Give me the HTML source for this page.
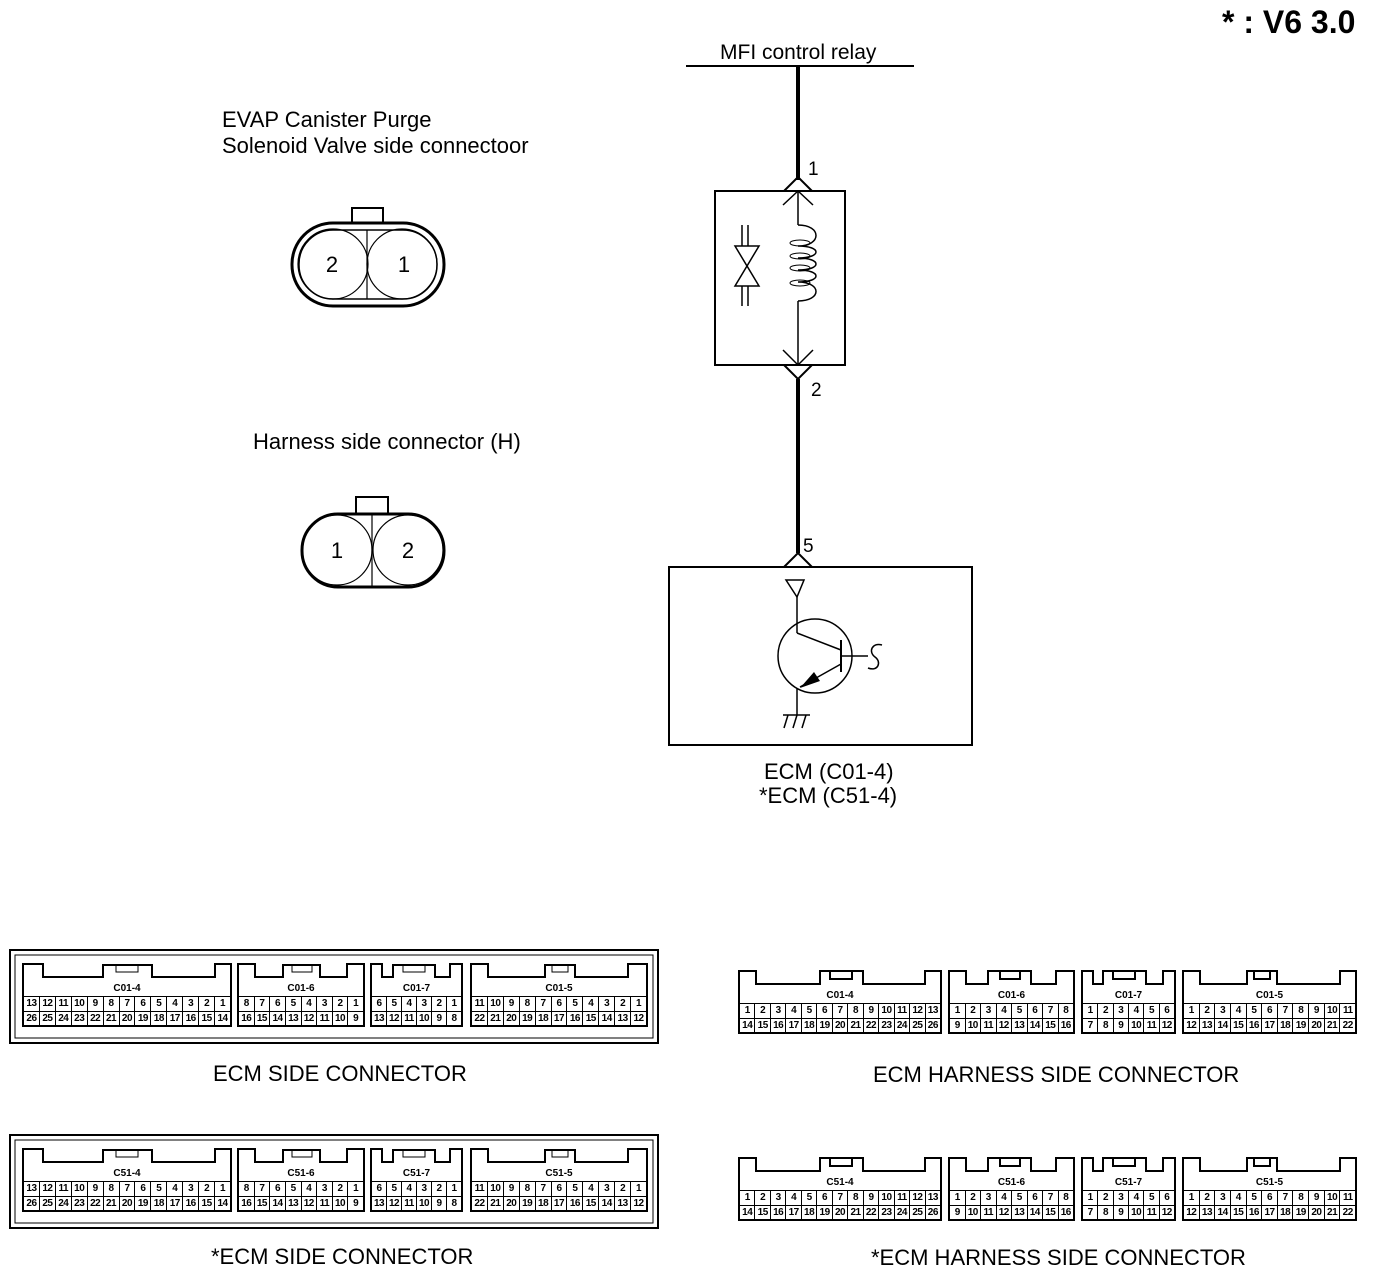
<!DOCTYPE html>
<html><head><meta charset="utf-8"><style>
body{margin:0;background:#fff;width:1376px;height:1270px;position:relative;overflow:hidden;font-family:"Liberation Sans",Arial,sans-serif}
.t{position:absolute;font-size:22px;color:#000;white-space:nowrap;line-height:1}
.c{position:absolute;height:64px}
.c svg{position:absolute;left:0;top:0}
.c .rows{position:absolute;left:0;right:0;top:33px;height:28px;border:2px solid #000;border-top:1.5px solid #000}
.rw{display:flex;height:14px}
.rw+.rw{border-top:1px solid #000}
.rw span{flex:1;border-left:1px solid #000;font-size:10px;text-align:center;line-height:14px;font-weight:bold;letter-spacing:-0.5px}
.rw span:first-child{border-left:none}
.lb{position:absolute;top:20px;left:0;right:0;text-align:center;font-size:10px;font-weight:bold}
</style></head><body>

<svg width="1376" height="1270" style="position:absolute;left:0;top:0">
<line x1="686" y1="66" x2="914" y2="66" stroke="#000" stroke-width="2"/>
<line x1="798" y1="66" x2="798" y2="180" stroke="#000" stroke-width="4"/>
<polyline points="784,191 798,177 812,191" fill="none" stroke="#000" stroke-width="2"/>
<rect x="715" y="191" width="130" height="174" fill="none" stroke="#000" stroke-width="2"/>
<polyline points="783,205 798,191 813,205" fill="none" stroke="#000" stroke-width="1.5"/>
<line x1="798" y1="191" x2="798" y2="225" stroke="#000" stroke-width="1.5"/>
<path d="M798,225 C822,225 822,246 798,246 C822,246 822,258 798,258 C822,258 822,270 798,270 C822,270 822,282 798,282 C822,282 822,301 798,301" fill="none" stroke="#000" stroke-width="1.5"/>
<ellipse cx="800" cy="243" rx="10" ry="3" fill="none" stroke="#000"/>
<ellipse cx="800" cy="256" rx="10" ry="3" fill="none" stroke="#000"/>
<ellipse cx="800" cy="268" rx="10" ry="3" fill="none" stroke="#000"/>
<ellipse cx="800" cy="283" rx="10" ry="3" fill="none" stroke="#000"/>
<line x1="798" y1="301" x2="798" y2="365" stroke="#000" stroke-width="1.5"/>
<polyline points="783,350 798,365 813,350" fill="none" stroke="#000" stroke-width="1.5"/>
<polyline points="784,365 798,379 812,365" fill="none" stroke="#000" stroke-width="2"/>
<line x1="798" y1="379" x2="798" y2="553" stroke="#000" stroke-width="4"/>
<line x1="742" y1="225" x2="742" y2="246" stroke="#000" stroke-width="1.5"/>
<line x1="748" y1="225" x2="748" y2="246" stroke="#000" stroke-width="1.5"/>
<polygon points="735,246 759,246 747,266" fill="none" stroke="#000" stroke-width="1.5"/>
<polygon points="735,286 759,286 747,266" fill="none" stroke="#000" stroke-width="1.5"/>
<line x1="742" y1="286" x2="742" y2="306" stroke="#000" stroke-width="1.5"/>
<line x1="748" y1="286" x2="748" y2="306" stroke="#000" stroke-width="1.5"/>
<polyline points="784,567 798,553 812,567" fill="none" stroke="#000" stroke-width="2"/>
<rect x="669" y="567" width="303" height="178" fill="none" stroke="#000" stroke-width="2"/>
<polygon points="786,580 804,580 797,597" fill="none" stroke="#000" stroke-width="1.5"/>
<line x1="797" y1="597" x2="797" y2="633" stroke="#000" stroke-width="1.5"/>
<circle cx="815" cy="656" r="37" fill="none" stroke="#000" stroke-width="1.5"/>
<line x1="797" y1="633" x2="841" y2="650" stroke="#000" stroke-width="1.5"/>
<line x1="841" y1="640" x2="841" y2="672" stroke="#000" stroke-width="2"/>
<line x1="841" y1="656" x2="868" y2="656" stroke="#000" stroke-width="1.5"/>
<path d="M882,645 C872,642 868,652 875,657 C882,662 878,672 868,668" fill="none" stroke="#000" stroke-width="1.5"/>
<line x1="841" y1="664" x2="800" y2="687" stroke="#000" stroke-width="1.5"/>
<polygon points="800,688 814,672 820,681" fill="#000"/>
<line x1="797" y1="688" x2="797" y2="715" stroke="#000" stroke-width="1.5"/>
<line x1="783" y1="715" x2="810" y2="715" stroke="#000" stroke-width="1.5"/>
<line x1="788" y1="715" x2="784" y2="728" stroke="#000" stroke-width="1.5"/>
<line x1="797" y1="715" x2="793" y2="728" stroke="#000" stroke-width="1.5"/>
<line x1="806" y1="715" x2="802" y2="728" stroke="#000" stroke-width="1.5"/>
<rect x="352" y="208" width="31" height="15" fill="none" stroke="#000" stroke-width="2"/>
<rect x="292" y="223" width="152" height="83" rx="41" fill="#fff" stroke="#000" stroke-width="3"/>
<rect x="299" y="230" width="138" height="69" rx="34" fill="none" stroke="#000" stroke-width="1.5"/>
<circle cx="333" cy="264" r="35" fill="none" stroke="#000" stroke-width="1.2"/>
<circle cx="402" cy="264" r="35" fill="none" stroke="#000" stroke-width="1.2"/>
<line x1="367" y1="230" x2="367" y2="299" stroke="#000" stroke-width="1.2"/>
<text x="332" y="272" font-size="22" text-anchor="middle" font-family="Liberation Sans">2</text>
<text x="404" y="272" font-size="22" text-anchor="middle" font-family="Liberation Sans">1</text>
<rect x="356" y="497" width="32" height="17" fill="none" stroke="#000" stroke-width="2"/>
<rect x="302" y="514" width="142" height="73" rx="36" fill="#fff" stroke="#000" stroke-width="3"/>
<circle cx="337" cy="550" r="35" fill="none" stroke="#000" stroke-width="1.2"/>
<circle cx="408" cy="550" r="35" fill="none" stroke="#000" stroke-width="1.2"/>
<line x1="372" y1="514" x2="372" y2="587" stroke="#000" stroke-width="1.2"/>
<text x="337" y="558" font-size="22" text-anchor="middle" font-family="Liberation Sans">1</text>
<text x="408" y="558" font-size="22" text-anchor="middle" font-family="Liberation Sans">2</text>
<rect x="10" y="950" width="648" height="93" fill="none" stroke="#000" stroke-width="2"/>
<rect x="15" y="955" width="638" height="83" fill="none" stroke="#000" stroke-width="1"/>
<rect x="10" y="1135" width="648" height="93" fill="none" stroke="#000" stroke-width="2"/>
<rect x="15" y="1140" width="638" height="83" fill="none" stroke="#000" stroke-width="1"/>
</svg>

<div class="t" style="left:1222px;top:6px;font-size:32px;font-weight:bold">* : V6 3.0</div>
<div class="t" style="left:720px;top:42px;font-size:21px">MFI control relay</div>
<div class="t" style="left:808px;top:160px;font-size:19px">1</div>
<div class="t" style="left:811px;top:381px;font-size:19px">2</div>
<div class="t" style="left:803px;top:537px;font-size:19px">5</div>
<div class="t" style="left:222px;top:109px">EVAP Canister Purge</div>
<div class="t" style="left:222px;top:135px">Solenoid Valve side connectoor</div>
<div class="t" style="left:253px;top:431px">Harness side connector (H)</div>
<div class="t" style="left:764px;top:761px">ECM (C01-4)</div>
<div class="t" style="left:759px;top:785px">*ECM (C51-4)</div>
<div class="t" style="left:213px;top:1063px">ECM SIDE CONNECTOR</div>
<div class="t" style="left:873px;top:1064px">ECM HARNESS SIDE CONNECTOR</div>
<div class="t" style="left:211px;top:1246px">*ECM SIDE CONNECTOR</div>
<div class="t" style="left:871px;top:1247px">*ECM HARNESS SIDE CONNECTOR</div>

<div class="c" style="left:22px;top:963px;width:210px"><svg width="210" height="35"><path d="M1,35V1H21V14H81V2H130V14H193V1H209V35" fill="none" stroke="#000" stroke-width="2"/><rect x="94" y="2" width="22" height="7" fill="none" stroke="#000"/></svg><div class="lb">C01-4</div><div class="rows"><div class="rw"><span>13</span><span>12</span><span>11</span><span>10</span><span>9</span><span>8</span><span>7</span><span>6</span><span>5</span><span>4</span><span>3</span><span>2</span><span>1</span></div><div class="rw"><span>26</span><span>25</span><span>24</span><span>23</span><span>22</span><span>21</span><span>20</span><span>19</span><span>18</span><span>17</span><span>16</span><span>15</span><span>14</span></div></div></div>
<div class="c" style="left:237px;top:963px;width:128px"><svg width="128" height="35"><path d="M1,35V1H18V14H46V2H83V14H110V1H127V35" fill="none" stroke="#000" stroke-width="2"/><rect x="55" y="2" width="20" height="7" fill="none" stroke="#000"/></svg><div class="lb">C01-6</div><div class="rows"><div class="rw"><span>8</span><span>7</span><span>6</span><span>5</span><span>4</span><span>3</span><span>2</span><span>1</span></div><div class="rw"><span>16</span><span>15</span><span>14</span><span>13</span><span>12</span><span>11</span><span>10</span><span>9</span></div></div></div>
<div class="c" style="left:370px;top:963px;width:93px"><svg width="93" height="35"><path d="M1,35V1H12V14H23V2H65V14H80V1H92V35" fill="none" stroke="#000" stroke-width="2"/><rect x="33" y="2" width="22" height="7" fill="none" stroke="#000"/></svg><div class="lb">C01-7</div><div class="rows"><div class="rw"><span>6</span><span>5</span><span>4</span><span>3</span><span>2</span><span>1</span></div><div class="rw"><span>13</span><span>12</span><span>11</span><span>10</span><span>9</span><span>8</span></div></div></div>
<div class="c" style="left:470px;top:963px;width:178px"><svg width="178" height="35"><path d="M1,35V1H18V14H75V2H105V14H158V1H177V35" fill="none" stroke="#000" stroke-width="2"/><rect x="82" y="2" width="16" height="7" fill="none" stroke="#000"/></svg><div class="lb">C01-5</div><div class="rows"><div class="rw"><span>11</span><span>10</span><span>9</span><span>8</span><span>7</span><span>6</span><span>5</span><span>4</span><span>3</span><span>2</span><span>1</span></div><div class="rw"><span>22</span><span>21</span><span>20</span><span>19</span><span>18</span><span>17</span><span>16</span><span>15</span><span>14</span><span>13</span><span>12</span></div></div></div>

<div class="c" style="left:22px;top:1148px;width:210px"><svg width="210" height="35"><path d="M1,35V1H21V14H81V2H130V14H193V1H209V35" fill="none" stroke="#000" stroke-width="2"/><rect x="94" y="2" width="22" height="7" fill="none" stroke="#000"/></svg><div class="lb">C51-4</div><div class="rows"><div class="rw"><span>13</span><span>12</span><span>11</span><span>10</span><span>9</span><span>8</span><span>7</span><span>6</span><span>5</span><span>4</span><span>3</span><span>2</span><span>1</span></div><div class="rw"><span>26</span><span>25</span><span>24</span><span>23</span><span>22</span><span>21</span><span>20</span><span>19</span><span>18</span><span>17</span><span>16</span><span>15</span><span>14</span></div></div></div>
<div class="c" style="left:237px;top:1148px;width:128px"><svg width="128" height="35"><path d="M1,35V1H18V14H46V2H83V14H110V1H127V35" fill="none" stroke="#000" stroke-width="2"/><rect x="55" y="2" width="20" height="7" fill="none" stroke="#000"/></svg><div class="lb">C51-6</div><div class="rows"><div class="rw"><span>8</span><span>7</span><span>6</span><span>5</span><span>4</span><span>3</span><span>2</span><span>1</span></div><div class="rw"><span>16</span><span>15</span><span>14</span><span>13</span><span>12</span><span>11</span><span>10</span><span>9</span></div></div></div>
<div class="c" style="left:370px;top:1148px;width:93px"><svg width="93" height="35"><path d="M1,35V1H12V14H23V2H65V14H80V1H92V35" fill="none" stroke="#000" stroke-width="2"/><rect x="33" y="2" width="22" height="7" fill="none" stroke="#000"/></svg><div class="lb">C51-7</div><div class="rows"><div class="rw"><span>6</span><span>5</span><span>4</span><span>3</span><span>2</span><span>1</span></div><div class="rw"><span>13</span><span>12</span><span>11</span><span>10</span><span>9</span><span>8</span></div></div></div>
<div class="c" style="left:470px;top:1148px;width:178px"><svg width="178" height="35"><path d="M1,35V1H18V14H75V2H105V14H158V1H177V35" fill="none" stroke="#000" stroke-width="2"/><rect x="82" y="2" width="16" height="7" fill="none" stroke="#000"/></svg><div class="lb">C51-5</div><div class="rows"><div class="rw"><span>11</span><span>10</span><span>9</span><span>8</span><span>7</span><span>6</span><span>5</span><span>4</span><span>3</span><span>2</span><span>1</span></div><div class="rw"><span>22</span><span>21</span><span>20</span><span>19</span><span>18</span><span>17</span><span>16</span><span>15</span><span>14</span><span>13</span><span>12</span></div></div></div>

<div class="c" style="left:738px;top:970px;width:204px"><svg width="204" height="35"><path d="M1,35V1H18V14H82V1H125V14H187V1H203V35" fill="none" stroke="#000" stroke-width="2"/><rect x="92" y="1" width="22" height="8" fill="none" stroke="#000" stroke-width="2"/></svg><div class="lb">C01-4</div><div class="rows"><div class="rw"><span>1</span><span>2</span><span>3</span><span>4</span><span>5</span><span>6</span><span>7</span><span>8</span><span>9</span><span>10</span><span>11</span><span>12</span><span>13</span></div><div class="rw"><span>14</span><span>15</span><span>16</span><span>17</span><span>18</span><span>19</span><span>20</span><span>21</span><span>22</span><span>23</span><span>24</span><span>25</span><span>26</span></div></div></div>
<div class="c" style="left:948px;top:970px;width:127px"><svg width="127" height="35"><path d="M1,35V1H18V14H40V1H83V14H108V1H126V35" fill="none" stroke="#000" stroke-width="2"/><rect x="52" y="1" width="20" height="8" fill="none" stroke="#000" stroke-width="2"/></svg><div class="lb">C01-6</div><div class="rows"><div class="rw"><span>1</span><span>2</span><span>3</span><span>4</span><span>5</span><span>6</span><span>7</span><span>8</span></div><div class="rw"><span>9</span><span>10</span><span>11</span><span>12</span><span>13</span><span>14</span><span>15</span><span>16</span></div></div></div>
<div class="c" style="left:1081px;top:970px;width:95px"><svg width="95" height="35"><path d="M1,35V1H12V14H22V1H65V14H82V1H94V35" fill="none" stroke="#000" stroke-width="2"/><rect x="32" y="1" width="22" height="8" fill="none" stroke="#000" stroke-width="2"/></svg><div class="lb">C01-7</div><div class="rows"><div class="rw"><span>1</span><span>2</span><span>3</span><span>4</span><span>5</span><span>6</span></div><div class="rw"><span>7</span><span>8</span><span>9</span><span>10</span><span>11</span><span>12</span></div></div></div>
<div class="c" style="left:1182px;top:970px;width:175px"><svg width="175" height="35"><path d="M1,35V1H18V14H65V1H95V14H158V1H174V35" fill="none" stroke="#000" stroke-width="2"/><rect x="72" y="1" width="16" height="8" fill="none" stroke="#000" stroke-width="2"/></svg><div class="lb">C01-5</div><div class="rows"><div class="rw"><span>1</span><span>2</span><span>3</span><span>4</span><span>5</span><span>6</span><span>7</span><span>8</span><span>9</span><span>10</span><span>11</span></div><div class="rw"><span>12</span><span>13</span><span>14</span><span>15</span><span>16</span><span>17</span><span>18</span><span>19</span><span>20</span><span>21</span><span>22</span></div></div></div>

<div class="c" style="left:738px;top:1157px;width:204px"><svg width="204" height="35"><path d="M1,35V1H18V14H82V1H125V14H187V1H203V35" fill="none" stroke="#000" stroke-width="2"/><rect x="92" y="1" width="22" height="8" fill="none" stroke="#000" stroke-width="2"/></svg><div class="lb">C51-4</div><div class="rows"><div class="rw"><span>1</span><span>2</span><span>3</span><span>4</span><span>5</span><span>6</span><span>7</span><span>8</span><span>9</span><span>10</span><span>11</span><span>12</span><span>13</span></div><div class="rw"><span>14</span><span>15</span><span>16</span><span>17</span><span>18</span><span>19</span><span>20</span><span>21</span><span>22</span><span>23</span><span>24</span><span>25</span><span>26</span></div></div></div>
<div class="c" style="left:948px;top:1157px;width:127px"><svg width="127" height="35"><path d="M1,35V1H18V14H40V1H83V14H108V1H126V35" fill="none" stroke="#000" stroke-width="2"/><rect x="52" y="1" width="20" height="8" fill="none" stroke="#000" stroke-width="2"/></svg><div class="lb">C51-6</div><div class="rows"><div class="rw"><span>1</span><span>2</span><span>3</span><span>4</span><span>5</span><span>6</span><span>7</span><span>8</span></div><div class="rw"><span>9</span><span>10</span><span>11</span><span>12</span><span>13</span><span>14</span><span>15</span><span>16</span></div></div></div>
<div class="c" style="left:1081px;top:1157px;width:95px"><svg width="95" height="35"><path d="M1,35V1H12V14H22V1H65V14H82V1H94V35" fill="none" stroke="#000" stroke-width="2"/><rect x="32" y="1" width="22" height="8" fill="none" stroke="#000" stroke-width="2"/></svg><div class="lb">C51-7</div><div class="rows"><div class="rw"><span>1</span><span>2</span><span>3</span><span>4</span><span>5</span><span>6</span></div><div class="rw"><span>7</span><span>8</span><span>9</span><span>10</span><span>11</span><span>12</span></div></div></div>
<div class="c" style="left:1182px;top:1157px;width:175px"><svg width="175" height="35"><path d="M1,35V1H18V14H65V1H95V14H158V1H174V35" fill="none" stroke="#000" stroke-width="2"/><rect x="72" y="1" width="16" height="8" fill="none" stroke="#000" stroke-width="2"/></svg><div class="lb">C51-5</div><div class="rows"><div class="rw"><span>1</span><span>2</span><span>3</span><span>4</span><span>5</span><span>6</span><span>7</span><span>8</span><span>9</span><span>10</span><span>11</span></div><div class="rw"><span>12</span><span>13</span><span>14</span><span>15</span><span>16</span><span>17</span><span>18</span><span>19</span><span>20</span><span>21</span><span>22</span></div></div></div>

</body></html>
